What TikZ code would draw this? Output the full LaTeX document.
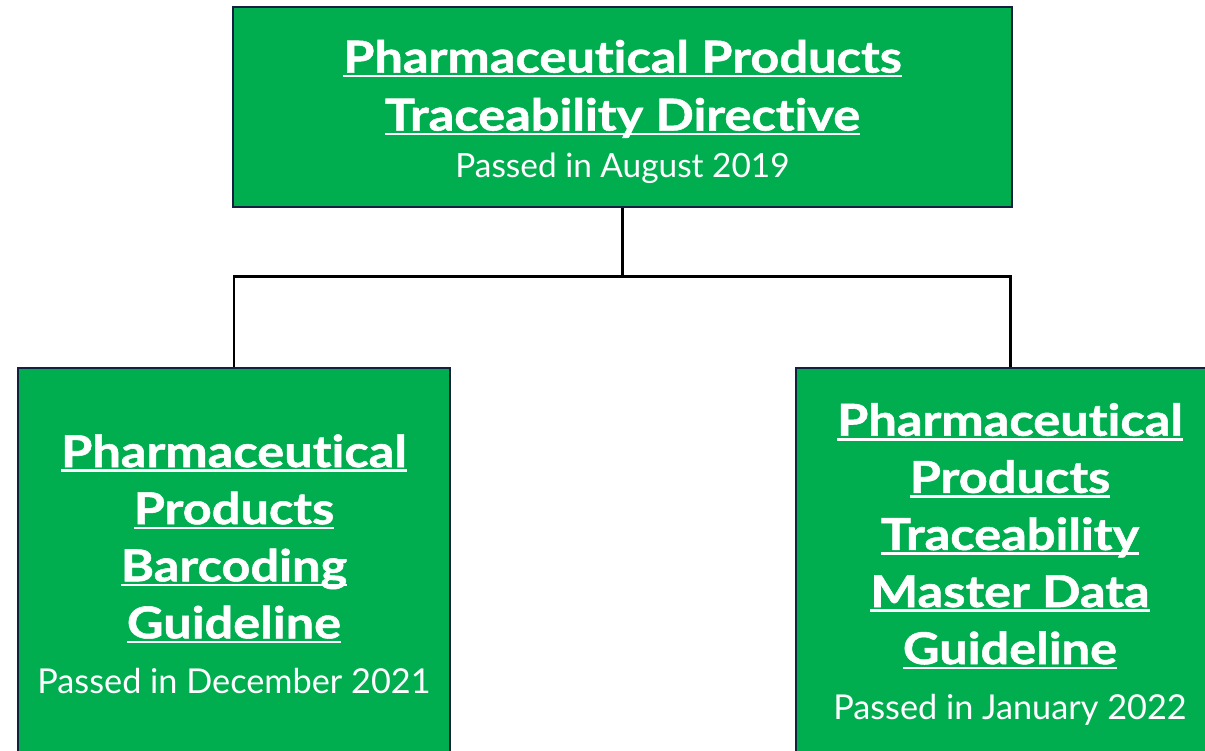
\documentclass[tikz,border=0pt]{standalone}
\usepackage{fontspec}
\setmainfont{Lato}[Ligatures=NoCommon, BoldFeatures={FakeStretch=1.15, FakeBold=1.2}]
\usepackage{tikz}
\usetikzlibrary{positioning}

\definecolor{boxgreen}{HTML}{00AE4F}
\definecolor{boxline}{HTML}{13203F}

\newcommand{\uln}[1]{\setbox0\hbox{#1}\rlap{\rule[-0.11em]{\wd0}{0.055em}}\box0}

\begin{document}
\begin{tikzpicture}
	\tikzstyle{directive}=[rectangle, fill=boxgreen, draw=boxline, line width=1.1pt, text=white, align=center, inner sep=0pt]
	\tikzstyle{title}=[font=\bfseries\fontsize{25}{32.5}\selectfont]
	\tikzstyle{link}=[line width=1.7pt, black]

	\fill[white] (0,0) rectangle (24.1,15.02);
	\useasboundingbox (0,0) rectangle (24.1,15.02);

	\node [directive, minimum width=15.58cm, minimum height=4cm, font=\bfseries\fontsize{25}{33}\selectfont] (top) at (12.45,12.88)
		{\rule{0pt}{24pt}\uln{Pharmaceutical Products}\\ \uln{Traceability Directive}\\[-0.25em]
		 {\mdseries\fontsize{19}{22}\selectfont Passed in August 2019}};
	\node [directive, title, minimum width=8.64cm, minimum height=7.84cm] (barcode) at (4.68,3.74)
		{\uln{Pharmaceutical}\\ \uln{Products}\\ \uln{Barcoding}\\ \uln{Guideline}\\[-0.05em]
		 {\mdseries\fontsize{19.5}{22}\selectfont Passed in December 2021}};
	\node [directive, title, minimum width=8.56cm, minimum height=7.84cm] (master) at (20.2,3.74)
		{\uln{Pharmaceutical}\\ \uln{Products}\\ \uln{Traceability}\\ \uln{Master Data}\\ \uln{Guideline}\\[-0.05em]
		 {\mdseries\fontsize{19.5}{22}\selectfont Passed in January 2022}};

	\path (top.south) ++(0,-1.38) coordinate (split);
	\draw [link] (top.south) -- (split) -| (barcode.north);
	\draw [link] (split) -| (master.north);
\end{tikzpicture}
\end{document}
